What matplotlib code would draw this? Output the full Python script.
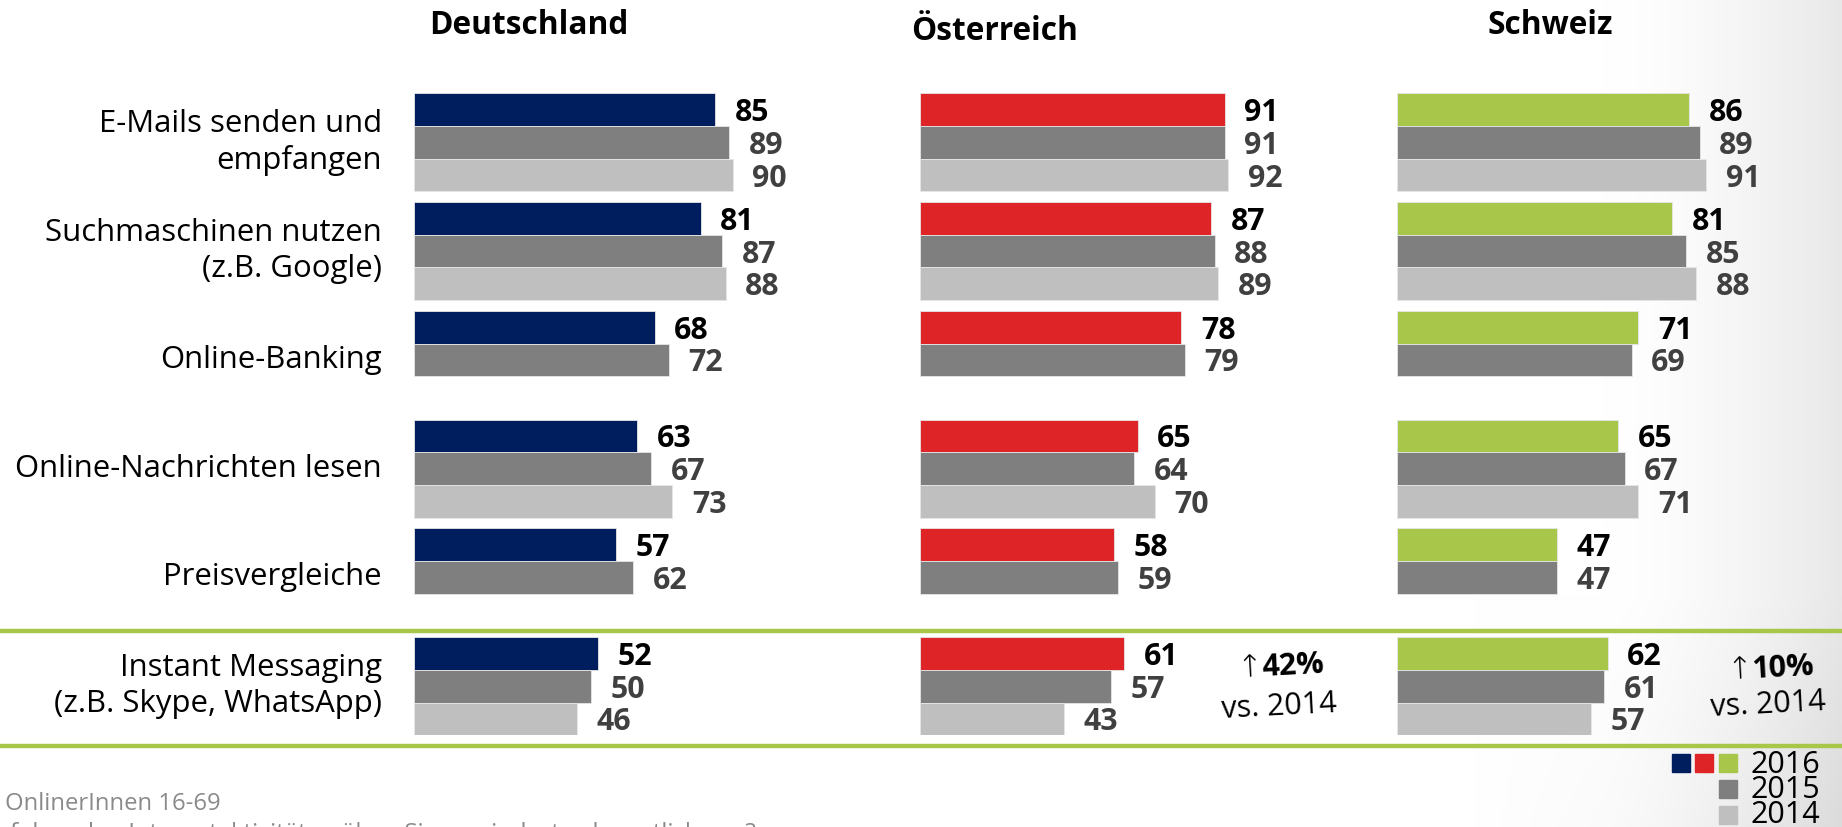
import numpy as np
import matplotlib
matplotlib.use("Agg")
import matplotlib.pyplot as plt
from matplotlib.lines import Line2D
from matplotlib.patches import Rectangle

plt.rcParams['font.family'] = ['Open Sans', 'DejaVu Sans']

# ---------------- data ----------------
categories = ["E-Mails senden und\nempfangen",
              "Suchmaschinen nutzen\n(z.B. Google)",
              "Online-Banking",
              "Online-Nachrichten lesen",
              "Preisvergleiche",
              "Instant Messaging\n(z.B. Skype, WhatsApp)"]
years = ["2016", "2015", "2014"]
countries = ["Deutschland", "Österreich", "Schweiz"]

de_2016 = [85, 81, 68, 63, 57, 52]
de_2015 = [89, 87, 72, 67, 62, 50]
de_2014 = [90, 88, None, 73, None, 46]

at_2016 = [91, 87, 78, 65, 58, 61]
at_2015 = [91, 88, 79, 64, 59, 57]
at_2014 = [92, 89, None, 70, None, 43]

ch_2016 = [86, 81, 71, 65, 47, 62]
ch_2015 = [89, 85, 69, 67, 47, 61]
ch_2014 = [91, 88, None, 71, None, 57]

growth_labels = [None, "42%", "10%"]

# ---------------- style ----------------
W, H = 1842, 827
col_2016 = ["#001E5E", "#DE2427", "#A8C64A"]
col_2015 = "#7F7F7F"
col_2014 = "#BFBFBF"
green = "#A8C64A"
lab_dark = "#404040"

fig = plt.figure(figsize=(W / 100, H / 100), dpi=100)
fig.patch.set_facecolor("white")

# subtle grey shading at the right edge
bg = fig.add_axes([0, 0, 1, 1], zorder=-10)
xx = np.linspace(0, 1, 400)
yy = np.linspace(0, 1, 200)
X, Y = np.meshgrid(xx, yy)
shade = np.clip((X - 0.87) / 0.13, 0, 1) ** 1.6 * 0.09
shade += np.clip((X - 0.80) / 0.2, 0, 1) * np.clip((Y - 0.72) / 0.28, 0, 1) * 0.05
img = 1 - shade
bg.imshow(np.dstack([img, img, img]), extent=[0, 1, 0, 1], aspect="auto", origin="upper")
bg.set_axis_off()


def fx(x):
    return x / W


def fy(y):
    return 1 - y / H


top_px, bot_px = 93.3, 735.3
group_step = 3.325
ytotal = 5 * group_step + 3

panels = [
    (countries[0], [de_2016, de_2015, de_2014], 414, 3.54, 529, 26),
    (countries[1], [at_2016, at_2015, at_2014], 920, 3.35, 995, 31),
    (countries[2], [ch_2016, ch_2015, ch_2014], 1397, 3.40, 1550, 26),
]

for pi, (name, series, left_px, scale, hx, hy) in enumerate(panels):
    width_px = 100 * scale
    ax = fig.add_axes([fx(left_px), fy(bot_px), width_px / W, (bot_px - top_px) / H])
    ax.set_xlim(0, 100)
    ax.set_ylim(ytotal, 0)
    ax.set_axis_off()
    ax.patch.set_alpha(0)
    colors = [col_2016[pi], col_2015, col_2014]
    for j, vals in enumerate(series):
        for g, v in enumerate(vals):
            if v is None:
                continue
            yc = g * group_step + j + 0.5
            ax.barh(yc, v, height=1.0, color=colors[j], edgecolor="#e6e6e6", linewidth=0.6)
            ax.text(v + 19.5 / scale, yc, str(v), ha="left", va="center_baseline",
                    fontsize=21.8, fontweight="bold",
                    color="black" if j == 0 else lab_dark)
    fig.text(fx(hx), fy(hy), name, ha="center", va="center", fontsize=22.8, fontweight="bold",
             color="black")

# category labels
for g, cat in enumerate(categories):
    yc = g * group_step + 1.5
    ypx = top_px + yc / ytotal * (bot_px - top_px)
    fig.text(fx(382), fy(ypx), cat, ha="right", va="center", fontsize=22.4,
             color="black", linespacing=1.27)

# green separator lines
for ypx in (631, 745.5):
    fig.add_artist(Line2D([0, 1], [fy(ypx), fy(ypx)], color=green, lw=3.2,
                          transform=fig.transFigure))

# growth annotations
for (gx, gy), lab in zip([(1276, 666), (1766, 668)], growth_labels[1:]):
    fig.text(fx(gx - 13), fy(gy + 2), "\u2191", ha="right", va="center", fontsize=22,
             family=["DejaVu Sans"], rotation=3, color="black", fontweight="light")
    fig.text(fx(gx - 15), fy(gy), lab, ha="left", va="center", fontsize=22,
             fontweight="bold", rotation=3, color="black")
for gx, gy in [(1279, 707), (1768, 705)]:
    fig.text(fx(gx), fy(gy), "vs. 2014", ha="center", va="center", fontsize=22,
             rotation=3, color="black")

# legend
sq = 18
for i, c in enumerate(col_2016):
    x0 = [1672, 1695, 1719][i]
    fig.add_artist(Rectangle((fx(x0), fy(754 + sq)), sq / W, sq / H, color=c,
                             transform=fig.transFigure))
fig.add_artist(Rectangle((fx(1719), fy(780 + sq)), sq / W, sq / H, color=col_2015,
                         transform=fig.transFigure))
fig.add_artist(Rectangle((fx(1719), fy(806 + sq)), sq / W, sq / H, color=col_2014,
                         transform=fig.transFigure))
for yr, ypx in zip(years, [765, 790, 815]):
    fig.text(fx(1750), fy(ypx), yr, ha="left", va="center", fontsize=22, color="black")

# footer
fig.text(fx(5), fy(804), "OnlinerInnen 16-69", ha="left", va="center", fontsize=17.2,
         color="#8a8a8a")
fig.text(fx(10), fy(834), "folgenden Internetaktivitäten üben Sie zumindest gelegentlich aus?",
         ha="left", va="center", fontsize=17.2, color="#8a8a8a")

fig.savefig("out.png", dpi=100)
